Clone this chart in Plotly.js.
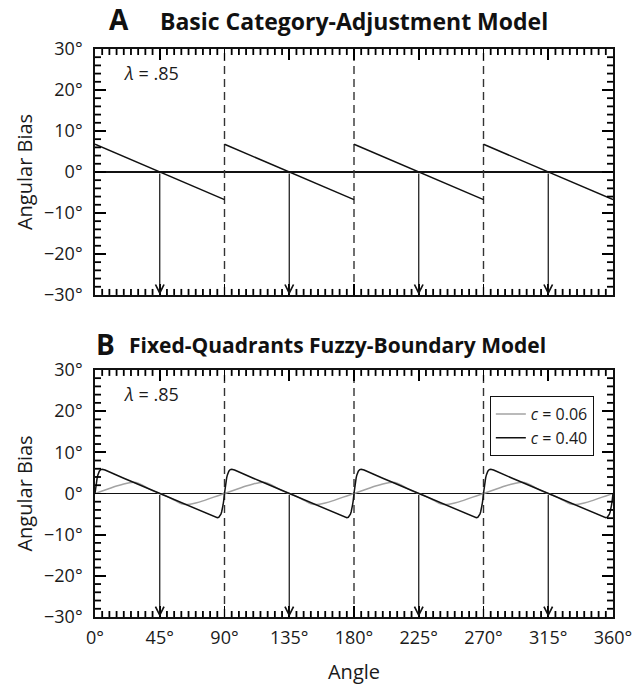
<!DOCTYPE html>
<html>
<head>
<meta charset="utf-8">
<script src="https://cdn.plot.ly/plotly-3.0.1.min.js"></script>
<style>html,body{margin:0;padding:0;background:#fff;}#chart{width:639px;height:685px;}</style>
</head>
<body>
<div id="chart"></div>
<script>
// ---- data ----
const quadrantStarts = [0, 90, 180, 270];
const categoryBoundaries = [90, 180, 270];
const prototypes = [45, 135, 225, 315];
const xMajorStep = 45, xMinorStep = 5;
const yMajorStep = 10, yMinorStep = 2;
const tickSuffix = "°";
const lambdaLabel = "\u03bb = .85";

// Panel A: basic category-adjustment model (bias within one quadrant)
const modelAOffset = [0, 90];
const modelABias = [6.75, -6.75];

// Panel B: fuzzy-boundary model, c = 0.40 (bias within one quadrant)
const c40Offset = [0, 0.5, 1, 1.5, 2, 2.5, 3, 4, 5, 7, 10, 15, 20, 25, 30, 35, 40, 45,
                   50, 55, 60, 65, 70, 75, 80, 83, 85, 86, 87, 87.5, 88, 88.5, 89, 89.5, 90];
const c40Bias = [0, 1.6, 2.8, 3.8, 4.5, 5.0, 5.4, 5.8, 5.9, 5.7, 5.2, 4.4, 3.7, 2.95, 2.2, 1.5, 0.75, 0,
                 -0.75, -1.5, -2.2, -2.95, -3.7, -4.4, -5.2, -5.7, -5.9, -5.8, -5.4, -5.0, -4.5, -3.8, -2.8, -1.6, 0];

// Panel B: fuzzy-boundary model, c = 0.06
const c06Offset = [0, 5, 10, 15, 20, 24, 27, 30, 33, 36, 40, 45, 50, 54, 57, 60, 63, 66, 70, 75, 80, 85, 90];
const c06Bias = [0, 0.6, 1.2, 1.8, 2.3, 2.6, 2.7, 2.5, 2.0, 1.4, 0.7, 0, -0.7, -1.4, -2.0, -2.5, -2.7, -2.6, -2.3, -1.8, -1.2, -0.6, 0];

const legendNames = ["<i>c</i> = 0.06", "<i>c</i> = 0.40"];

// ---- helpers ----
function tile(offsets, values) {
  const xs = [], ys = [];
  quadrantStarts.forEach((q, i) => {
    if (i > 0) { xs.push(null); ys.push(null); }
    offsets.forEach((o, j) => { xs.push(q + o); ys.push(values[j]); });
  });
  return {x: xs, y: ys};
}
function verticals(xsList, y0, y1) {
  const xs = [], ys = [];
  xsList.forEach((v, i) => {
    if (i > 0) { xs.push(null); ys.push(null); }
    xs.push(v, v); ys.push(y0, y1);
  });
  return {x: xs, y: ys};
}

const FONT = "Open Sans, Lato, DejaVu Sans, sans-serif";
const INK = "#1a1a1a";
const traces = [];
const dashed = verticals(categoryBoundaries, -30, 30);
[["x", "y"], ["x2", "y2"]].forEach(([xa, ya]) => {
  traces.push({x: dashed.x, y: dashed.y, xaxis: xa, yaxis: ya, mode: "lines",
    line: {color: "#333", width: 1.4, dash: "8px,5px"}, showlegend: false, hoverinfo: "skip"});
});
const a = tile(modelAOffset, modelABias);
traces.push({x: a.x, y: a.y, xaxis: "x", yaxis: "y", mode: "lines",
  line: {color: "#111", width: 1.5}, showlegend: false});
const g = tile(c06Offset, c06Bias);
traces.push({x: g.x, y: g.y, xaxis: "x2", yaxis: "y2", mode: "lines", name: legendNames[0],
  line: {color: "#a3a3a3", width: 1.5, shape: "spline", smoothing: 0.6}, showlegend: true});
const k = tile(c40Offset, c40Bias);
traces.push({x: k.x, y: k.y, xaxis: "x2", yaxis: "y2", mode: "lines", name: legendNames[1],
  line: {color: "#111", width: 1.5}, showlegend: true});

const annotations = [];
[["x", "y"], ["x2", "y2"]].forEach(([xa, ya]) => {
  prototypes.forEach(p => {
    annotations.push({xref: xa, yref: ya, axref: xa, ayref: ya, x: p, y: -30, ax: p, ay: 0,
      text: "", showarrow: true, arrowhead: 5, arrowsize: 1.4, arrowwidth: 1.2, arrowcolor: "#111"});
  });
  annotations.push({xref: xa, yref: ya, x: 19, y: 24.2, xanchor: "left", yanchor: "middle",
    text: lambdaLabel.replace("\u03bb", "<i>\u03bb</i>"), showarrow: false,
    font: {family: FONT, size: 18, color: INK}});
});
// panel titles
annotations.push({xref: "paper", yref: "paper", x: 0.023, y: 1.053, xanchor: "left", yanchor: "middle",
  text: "<b>A</b>", showarrow: false, font: {family: FONT, size: 28, color: "#111"}});
annotations.push({xref: "paper", yref: "paper", x: 0.5, y: 1.049, xanchor: "center", yanchor: "middle",
  text: "<b>Basic Category-Adjustment Model</b>", showarrow: false, font: {family: FONT, size: 23, color: "#111"}});
annotations.push({xref: "paper", yref: "paper", x: -0.002, y: 0.481, xanchor: "left", yanchor: "middle",
  text: "<b>B</b>", showarrow: false, font: {family: FONT, size: 28, color: "#111"}});
annotations.push({xref: "paper", yref: "paper", x: 0.062, y: 0.479, xanchor: "left", yanchor: "middle",
  text: "<b>Fixed-Quadrants Fuzzy-Boundary Model</b>", showarrow: false, font: {family: FONT, size: 21, color: "#111"}});

// minor tick marks (pixel-length shapes anchored on the axis scales)
const shapes = [];
const tickLine = {color: "#000", width: 1.8};
const minorLen = 6;
[["x", "y"], ["x2", "y2"]].forEach(([xa, ya]) => {
  for (let v = 0; v <= 360; v += xMinorStep) {
    if (v % xMajorStep === 0) continue;
    shapes.push({type: "line", layer: "above", xref: xa, yref: ya, x0: v, x1: v,
      ysizemode: "pixel", yanchor: -30, y0: 0, y1: minorLen, line: tickLine});
    shapes.push({type: "line", layer: "above", xref: xa, yref: ya, x0: v, x1: v,
      ysizemode: "pixel", yanchor: 30, y0: 0, y1: -minorLen, line: tickLine});
  }
  for (let v = -30; v <= 30; v += yMinorStep) {
    if (v % yMajorStep === 0) continue;
    shapes.push({type: "line", layer: "above", xref: xa, yref: ya, y0: v, y1: v,
      xsizemode: "pixel", xanchor: 0, x0: 0, x1: minorLen, line: tickLine});
    shapes.push({type: "line", layer: "above", xref: xa, yref: ya, y0: v, y1: v,
      xsizemode: "pixel", xanchor: 360, x0: 0, x1: -minorLen, line: tickLine});
  }
});

function xAxis(anchor, labels) {
  return {anchor: anchor, domain: [0, 1], range: [0, 360], tickmode: "linear", tick0: 0, dtick: xMajorStep,
    ticksuffix: tickSuffix, showticklabels: labels, ticks: "inside", ticklen: 11, tickwidth: 1.8, tickcolor: "#000",
    showline: true, linecolor: "#111", linewidth: 1.8, mirror: "ticks", showgrid: false, zeroline: false,
    ticklabelstandoff: 4, tickfont: {family: FONT, size: 18, color: INK}, fixedrange: true};
}
function yAxis(anchor, domain) {
  return {anchor: anchor, domain: domain, range: [-30, 30], tickmode: "linear", tick0: 0, dtick: yMajorStep,
    ticksuffix: tickSuffix, ticks: "inside", ticklen: 11, tickwidth: 1.8, tickcolor: "#000",
    showline: true, linecolor: "#111", linewidth: 1.8, mirror: "ticks", showgrid: false,
    zeroline: true, zerolinecolor: "#111", zerolinewidth: 1.2,
    ticklabelstandoff: 7, tickfont: {family: FONT, size: 18, color: INK},
    title: {text: "Angular Bias", font: {family: FONT, size: 20, color: INK}, standoff: 6}, fixedrange: true};
}

const layout = {
  width: 639, height: 685,
  margin: {l: 95, r: 26, t: 49, b: 68},
  paper_bgcolor: "#fff", plot_bgcolor: "#fff",
  xaxis: xAxis("y", false),
  yaxis: yAxis("x", [0.567, 1]),
  xaxis2: Object.assign(xAxis("y2", true), {title: {text: "Angle", font: {family: FONT, size: 20, color: INK}, standoff: 20}}),
  yaxis2: yAxis("x2", [0, 0.435]),
  showlegend: true,
  legend: {x: 0.963, y: 0.389, xanchor: "right", yanchor: "top", bordercolor: "#111", borderwidth: 1,
    bgcolor: "#fff", font: {family: FONT, size: 16, color: INK}, tracegroupgap: 0, itemwidth: 30},
  annotations: annotations,
  shapes: shapes
};

Plotly.newPlot("chart", traces, layout, {staticPlot: true, displayModeBar: false});
</script>
</body>
</html>
